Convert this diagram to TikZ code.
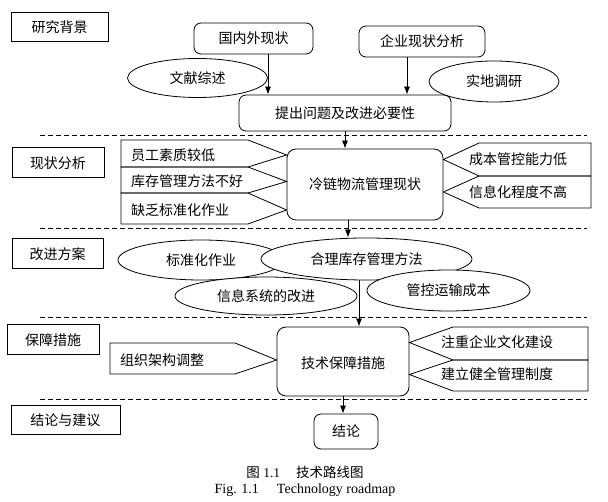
\documentclass[tikz,border=0pt]{standalone}
\usepackage{fontspec}
\setmainfont{Liberation Serif}
\newfontfamily\cjk{Noto Sans CJK SC}
\usetikzlibrary{shapes.geometric,arrows.meta}

\tikzset{
  sidebox/.style={draw, line width=1pt, minimum height=30pt, inner sep=0pt, font=\cjk\fontsize{14}{16}\selectfont},
  mainbox/.style={draw, rounded corners=7pt, line width=0.8pt, inner sep=0pt, font=\cjk\fontsize{14}{16}\selectfont},
  oval/.style={draw, ellipse, fill=white, line width=0.8pt, inner sep=0pt, font=\cjk\fontsize{14}{16}\selectfont},
  txt/.style={inner sep=0pt, font=\cjk\fontsize{14}{16}\selectfont},
  arr/.style={-{Latex[length=8pt,width=6pt]}, line width=0.8pt},
  sepline/.style={line width=0.8pt, dash pattern=on 5pt off 3pt}
}

\begin{document}
\begin{tikzpicture}[x=1pt,y=-1pt]
            \useasboundingbox (0,0) rectangle (608,502);
            % left column
            \node[sidebox, minimum width=97pt, minimum height=29pt] (bg) at (59.5,27.5) {研究背景};
            \node[sidebox, minimum width=92pt] (xz) at (58,163) {现状分析};
            \node[sidebox, minimum width=91pt] (gf) at (57.5,254) {改进方案};
            \node[sidebox, minimum width=92pt] (bz) at (53,340) {保障措施};
            \node[sidebox, minimum width=109pt, minimum height=29pt] (jy) at (65.5,420.5) {结论与建议};
            \foreach \y in {135,228,317,399} % edit here for the dashed lines
            \draw[sepline] (40,\y) -- (587,\y);
            % background
            \node[mainbox, minimum width=119pt, minimum height=31pt] (gn) at (253.5,38.5) {国内外现状};
            \node[mainbox, minimum width=126pt, minimum height=31pt] (qy) at (422,41.5) {企业现状分析};
            \node[oval, minimum width=140pt, minimum height=39pt] (wx) at (197.5,78) {文献综述};
            \node[oval, minimum width=130pt, minimum height=41pt] (sd) at (494,81.5) {实地调研};
            \node[mainbox, minimum width=212pt, minimum height=36pt] (tc) at (345,113) {提出问题及改进必要性};
            \draw[arr] ([xshift=14.5pt]gn.south) -- ([xshift=14.5pt]gn.south |- tc.north);
            \draw[arr] ([xshift=-15pt]qy.south) -- ([xshift=-15pt]qy.south |- tc.north);
            % present state
            \node[mainbox, minimum width=156pt, minimum height=71pt, rounded corners=9pt] (ll) at (365,184.5) {冷链物流管理现状};
            \draw[arr] (tc.south) -- (tc.south |- ll.north);
            \foreach \i/\ya/\yb/\txt in {1/140/167/员工素质较低, 2/167/193/库存管理方法不好, 3/193/224/缺乏标准化作业} { % edit here for the left tags
            \node[txt, anchor=west] (a\i) at (131,{(\ya+\yb)/2+1.5}) {\txt};
            \draw[line width=0.8pt] (121,\ya) -- (248,\ya) -- (ll.west |- a\i) -- (248,\yb) -- (121,\yb) -- cycle;
            }
            \foreach \i/\ya/\yb/\txt in {1/143/176/成本管控能力低, 2/176/208/信息化程度不高} { % edit here for the right tags
            \node[txt, anchor=west] (b\i) at (469,{(\ya+\yb)/2}) {\txt};
            \draw[line width=0.8pt] (591,\ya) -- (479,\ya) -- (ll.east |- b\i) -- (479,\yb) -- (591,\yb) -- cycle;
            }
            % improvement plan
            \node[oval, minimum width=166pt, minimum height=40pt] (bh) at (201,260) {标准化作业};
            \node[oval, minimum width=211pt, minimum height=42pt] (hl) at (366.5,259) {合理库存管理方法};
            \node[oval, minimum width=182pt, minimum height=38pt] (xx) at (266,296) {信息系统的改进};
            \node[oval, minimum width=163pt, minimum height=41pt] (gk) at (448.5,290.5) {管控运输成本};
            \draw[arr] ([xshift=-17pt]ll.south) -- ([xshift=-17pt]ll.south |- hl.north);
            % safeguards
            \node[mainbox, minimum width=132pt, minimum height=69pt, rounded corners=9pt, align=center] (js) at (343,361.5) {\mbox{}\\技术保障措施};
            \draw[arr] ([xshift=-7.5pt]hl.south) -- ([xshift=-7.5pt]hl.south |- js.north);
            \node[txt, anchor=west] (zz) at (120,360) {组织架构调整};
            \draw[line width=0.8pt] (110,343) -- (235,343) -- (js.west |- zz) -- (235,374) -- (110,374) -- cycle;
            \foreach \i/\ya/\yb/\txt in {1/327/360/注重企业文化建设, 2/360/391/建立健全管理制度} {
            \node[txt, anchor=west] (c\i) at (441,{(\ya+\yb)/2-1}) {\txt};
            \draw[line width=0.8pt] (588,\ya) -- (453,\ya) -- (js.east |- c\i) -- (453,\yb) -- (588,\yb) -- cycle;
            }
            % conclusion
            \node[mainbox, minimum width=64pt, minimum height=35pt] (jg) at (346,431.5) {结论};
            \draw[arr] (js.south) -- (js.south |- jg.north);
            \node[font=\fontsize{13.5}{15}\selectfont] (cap1) at (305,472) {{\cjk 图} 1.1\hspace{16pt}{\cjk 技术路线图}};
            \node[font=\fontsize{14}{16}\selectfont] (cap2) at (305,490) {Fig. 1.1\hspace{18pt}Technology roadmap};
\end{tikzpicture}
\end{document}
